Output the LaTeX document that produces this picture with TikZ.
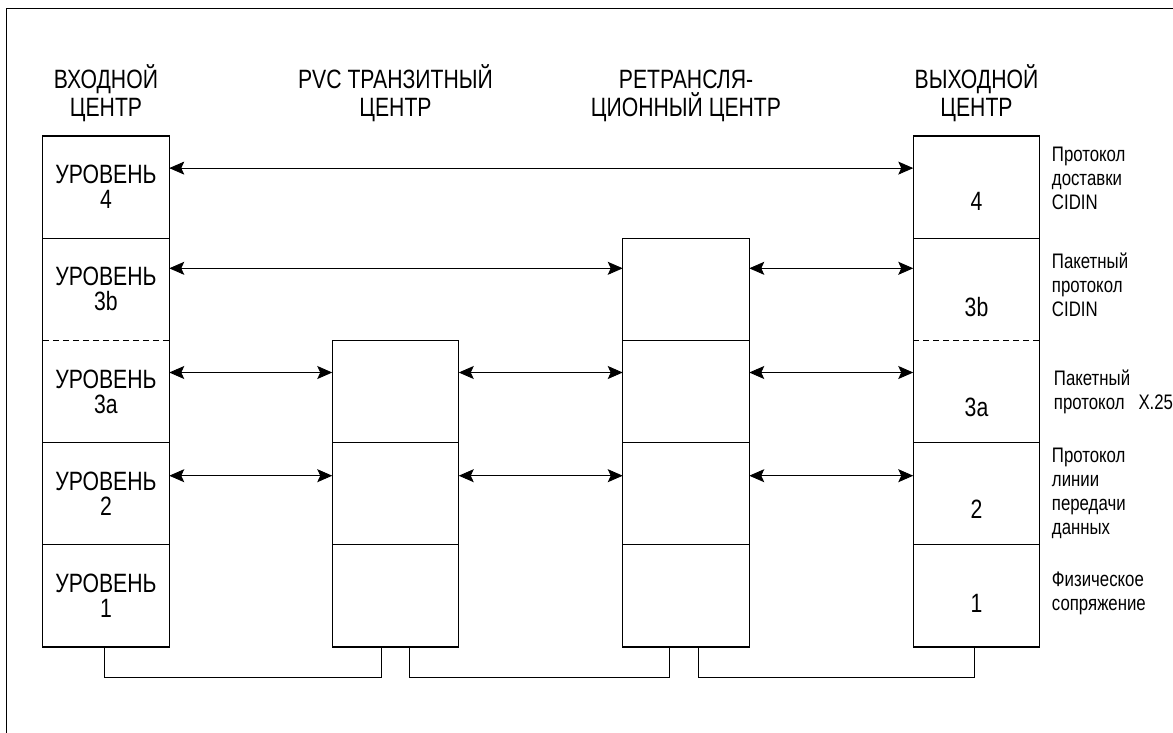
\documentclass[tikz,border=0pt]{standalone}
\usepackage{fontspec}
\setmainfont{Liberation Sans}[FakeStretch=0.8]
\usetikzlibrary{positioning,arrows.meta}

% number set lower than the middle of its cell
\newcommand\lowr[2][15]{\raisebox{-#1pt}[\height][\depth]{#2}}

\begin{document}
\begin{tikzpicture}[x=1pt, y=-1pt,
  cell/.style={minimum width=126.5pt, minimum height=102.2pt,
    inner sep=0pt, outer sep=0pt, align=center,
    font=\fontsize{26.5}{25}\selectfont},
  title/.style={align=center, inner sep=0pt,
    font=\fontsize{26.5}{28}\selectfont},
  note/.style={align=left, inner sep=0pt,
    font=\fontsize{21}{24}\selectfont},
  outline/.style={line width=1.4pt},
  sep/.style={line width=1pt},
  arr/.style={{Stealth[length=15pt,width=13pt,inset=3pt]}-{Stealth[length=15pt,width=13pt,inset=3pt]},
    line width=0.9pt},
  link/.style={line width=0.9pt}]

  \useasboundingbox (0,0) rectangle (1173,732);

  % Frame (only top and left edge fall inside the page)
  \draw[line width=1pt] (6,740) -- (6,8) -- (1180,8);

  % Input centre
  \node[cell] (in4) at (106,187.1) {УРОВЕНЬ\\4};
  \node[cell, below=0pt of in4] (in3b) {УРОВЕНЬ\\3b};
  \node[cell, below=0pt of in3b] (in3a) {УРОВЕНЬ\\3a};
  \node[cell, below=0pt of in3a] (in2) {УРОВЕНЬ\\2};
  \node[cell, below=0pt of in2] (in1) {УРОВЕНЬ\\1};

  % PVC transit centre
  \node[cell, right=163pt of in3a] (pvc3a) {};
  \node[cell, below=0pt of pvc3a] (pvc2) {};
  \node[cell, below=0pt of pvc2] (pvc1) {};

  % Relay centre
  \node[cell, right=164pt of pvc3a] (rel3a) {};
  \node[cell, above=0pt of rel3a] (rel3b) {};
  \node[cell, below=0pt of rel3a] (rel2) {};
  \node[cell, below=0pt of rel2] (rel1) {};

  % Output centre
  \node[cell, right=164pt of rel3b] (out3b) {\lowr[18]{3b}};
  \node[cell, above=0pt of out3b] (out4) {\lowr[14]{4}};
  \node[cell, below=0pt of out3b] (out3a) {\lowr[16]{3a}};
  \node[cell, below=0pt of out3a] (out2) {\lowr[16]{2}};
  \node[cell, below=0pt of out2] (out1) {\lowr[7]{1}};

  % Box outlines and row lines
  \draw[outline] (in4.north west) rectangle (in1.south east);
  \draw[sep] (in3b.north west) -- (in3b.north east);
  \draw[sep, dash pattern=on 6pt off 4pt] (in3a.north west) -- (in3a.north east);
  \draw[sep] (in2.north west) -- (in2.north east);
  \draw[sep] (in1.north west) -- (in1.north east);

  \draw[outline] (pvc3a.north west) rectangle (pvc1.south east);
  \draw[sep] (pvc2.north west) -- (pvc2.north east);
  \draw[sep] (pvc1.north west) -- (pvc1.north east);

  \draw[outline] (rel3b.north west) rectangle (rel1.south east);
  \draw[sep] (rel3a.north west) -- (rel3a.north east);
  \draw[sep] (rel2.north west) -- (rel2.north east);
  \draw[sep] (rel1.north west) -- (rel1.north east);

  \draw[outline] (out4.north west) rectangle (out1.south east);
  \draw[sep] (out3b.north west) -- (out3b.north east);
  \draw[sep, dash pattern=on 6pt off 4pt] (out3a.north west) -- (out3a.north east);
  \draw[sep] (out2.north west) -- (out2.north east);
  \draw[sep] (out1.north west) -- (out1.north east);

  % Column titles
  \coordinate (ttl) at (0,122);
  \node[title, anchor=south] (tin) at (in4.center |- ttl) {ВХОДНОЙ\\ЦЕНТР};
  \node[title, anchor=south] (tpvc) at (pvc3a.center |- ttl) {PVC ТРАНЗИТНЫЙ\\ЦЕНТР};
  \node[title, anchor=south] (trel) at (rel3b.center |- ttl) {РЕТРАНСЛЯ-\\ЦИОННЫЙ ЦЕНТР};
  \node[title, anchor=south] (tout) at (out4.center |- ttl) {ВЫХОДНОЙ\\ЦЕНТР};

  % Protocol notes on the right
  \node[note, right=12pt of out4, yshift=9pt] (n4) {Протокол\\доставки\\CIDIN};
  \node[note, right=12pt of out3b, yshift=4pt] (n3b) {Пакетный\\протокол\\CIDIN};
  \node[note, right=14pt of out3a] (n3a) {Пакетный\\протокол\ \ \ X.25};
  \node[note, right=12pt of out2] (n2) {Протокол\\линии\\передачи\\данных};
  \node[note, right=12pt of out1, yshift=3pt] (n1) {Физическое\\сопряжение};

  % Peer arrows
  \draw[arr] ([yshift=19pt]in4.east) -- ([yshift=19pt]out4.west);
  \draw[arr] ([yshift=21pt]in3b.east) -- ([yshift=21pt]rel3b.west);
  \draw[arr] ([yshift=21pt]rel3b.east) -- ([yshift=21pt]out3b.west);
  \draw[arr] ([yshift=19pt]in3a.east) -- ([yshift=19pt]pvc3a.west);
  \draw[arr] ([yshift=19pt]pvc3a.east) -- ([yshift=19pt]rel3a.west);
  \draw[arr] ([yshift=19pt]rel3a.east) -- ([yshift=19pt]out3a.west);
  \draw[arr] ([yshift=18pt]in2.east) -- ([yshift=18pt]pvc2.west);
  \draw[arr] ([yshift=18pt]pvc2.east) -- ([yshift=18pt]rel2.west);
  \draw[arr] ([yshift=18pt]rel2.east) -- ([yshift=18pt]out2.west);

  % Physical links under the boxes
  \draw[link] ([xshift=-2pt]in1.south) -- ++(0,30) -| ([xshift=-14.5pt]pvc1.south);
  \draw[link] ([xshift=13.5pt]pvc1.south) -- ++(0,30) -| ([xshift=-16.7pt]rel1.south);
  \draw[link] ([xshift=12.3pt]rel1.south) -- ++(0,30) -| ([xshift=-2.5pt]out1.south);

\end{tikzpicture}
\end{document}
